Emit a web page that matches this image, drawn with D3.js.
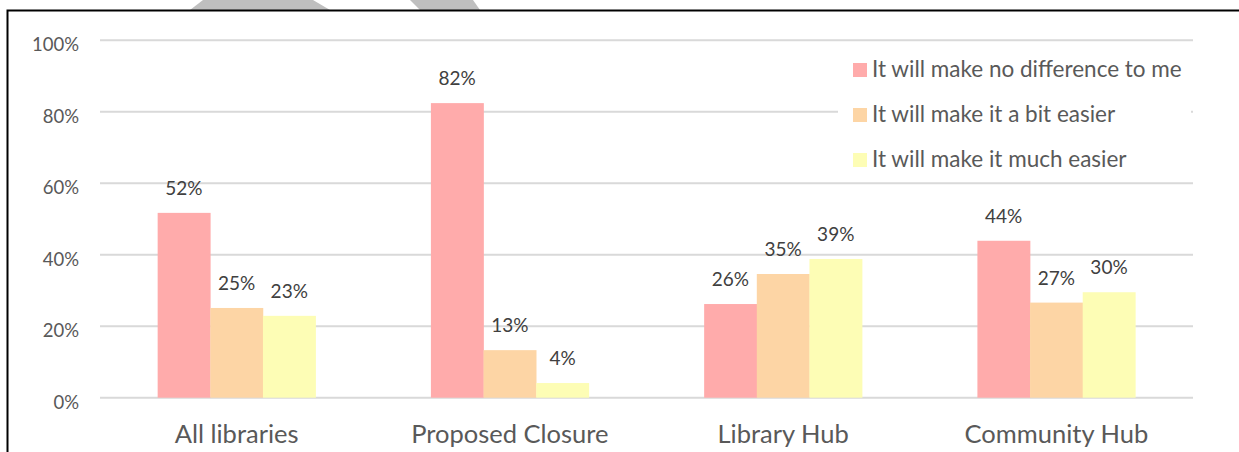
<!DOCTYPE html>
<html lang="en">
<head>
  <meta charset="utf-8">
  <script src="https://d3js.org/d3.v7.min.js"></script>
  <style>
    body { margin: 0; background: #fff; }
    text { font-family: Lato, "Noto Sans", sans-serif; }
  </style>
</head>
<body>
<script>
  // chart data
  const categories = ["All libraries", "Proposed Closure", "Library Hub", "Community Hub"];
  const seriesNames = ["It will make no difference to me", "It will make it a bit easier", "It will make it much easier"];
  const noDifference = [51.7, 82.4, 26.2, 43.9];
  const bitEasier = [25.1, 13.3, 34.6, 26.6];
  const muchEasier = [22.9, 4.1, 38.8, 29.5];
  const yTicks = [0, 20, 40, 60, 80, 100];
  const colors = ["#FFABAB", "#FDD5A5", "#FDFDB5"];

  const seriesValues = [noDifference, bitEasier, muchEasier];

  const w = 1239, h = 452;

  const svg = d3.select("body").append("svg")
    .attr("width", w)
    .attr("height", h);

  svg.append("rect").attr("width", w).attr("height", h).attr("fill", "#fff");

  // grey watermark pieces peeking out above the frame
  svg.append("path")
    .attr("d", "M190,10 L203,0 L313,0 L330,10 Z")
    .attr("fill", "#BFBFBF");
  svg.append("path")
    .attr("d", "M410,0 L473,0 L480,10 L420,10 Z")
    .attr("fill", "#BFBFBF");

  // frame (top and left edges)
  svg.append("path")
    .attr("d", "M7.5," + h + " L7.5,10.5 L" + w + ",10.5")
    .attr("fill", "none")
    .attr("stroke", "#000")
    .attr("stroke-width", 2);

  // scales
  const x0 = d3.scaleBand()
    .domain(categories)
    .range([100, 1193])
    .paddingInner(0.422)
    .paddingOuter(0.211);

  const x1 = d3.scaleBand()
    .domain(d3.range(seriesNames.length))
    .range([0, x0.bandwidth()]);

  const y = d3.scaleLinear()
    .domain([0, 100])
    .range([397.7, 40.2]);

  // gridlines
  svg.append("g")
    .selectAll("line")
    .data(yTicks)
    .join("line")
    .attr("x1", 100)
    .attr("x2", 1193)
    .attr("y1", d => y(d))
    .attr("y2", d => y(d))
    .attr("stroke", "#D9D9D9")
    .attr("stroke-width", 2);

  // y axis labels
  const yAxis = d3.axisLeft(y)
    .tickValues(yTicks)
    .tickFormat(d => d + "%")
    .tickSize(0)
    .tickPadding(0);

  const yg = svg.append("g")
    .attr("transform", "translate(79,0)")
    .call(yAxis);
  yg.select(".domain").remove();
  yg.selectAll("text")
    .attr("font-size", 18.5)
    .attr("font-family", "Lato, sans-serif")
    .attr("fill", "#595959")
    .attr("dy", "0.72em")
    .attr("y", -3);

  // bars
  const groups = svg.append("g")
    .selectAll("g")
    .data(categories)
    .join("g")
    .attr("transform", d => "translate(" + x0(d) + ",0)");

  groups.selectAll("rect")
    .data((d, i) => seriesValues.map((s, k) => ({ k: k, v: s[i] })))
    .join("rect")
    .attr("x", d => x1(d.k))
    .attr("y", d => y(d.v))
    .attr("width", x1.bandwidth() + 0.3)
    .attr("height", d => y(0) - y(d.v))
    .attr("fill", d => colors[d.k]);

  groups.selectAll("text")
    .data((d, i) => seriesValues.map((s, k) => ({ k: k, v: s[i] })))
    .join("text")
    .attr("x", d => x1(d.k) + x1.bandwidth() / 2)
    .attr("y", d => y(d.v) - 18)
    .attr("text-anchor", "middle")
    .attr("font-size", 19)
    .attr("fill", "#404040")
    .text(d => Math.round(d.v) + "%");

  // x axis labels
  const xAxis = d3.axisBottom(x0).tickSize(0).tickPadding(0);
  const xg = svg.append("g")
    .attr("transform", "translate(0,443)")
    .call(xAxis);
  xg.select(".domain").remove();
  xg.selectAll("text")
    .attr("font-size", 25.5)
    .attr("font-family", "Lato, sans-serif")
    .attr("fill", "#595959")
    .attr("dy", 0);

  // legend
  const legend = svg.append("g");
  legend.append("rect")
    .attr("x", 838).attr("y", 46)
    .attr("width", 353).attr("height", 132)
    .attr("fill", "#fff");

  const items = legend.selectAll("g")
    .data(seriesNames)
    .join("g")
    .attr("transform", (d, i) => "translate(853," + (63 + i * 45) + ")");

  items.append("rect")
    .attr("width", 14)
    .attr("height", 14)
    .attr("fill", (d, i) => colors[i]);

  items.append("text")
    .attr("x", 19)
    .attr("y", 14)
    .attr("font-size", 22.5)
    .attr("fill", "#595959")
    .text(d => d);
</script>
</body>
</html>
